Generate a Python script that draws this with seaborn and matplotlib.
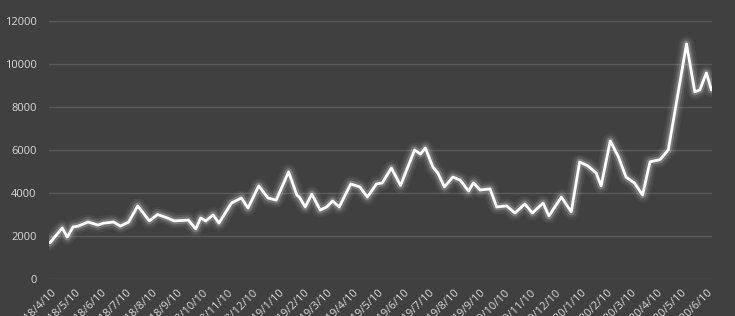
import matplotlib
matplotlib.use("Agg")
import matplotlib.pyplot as plt
import seaborn as sns
import pandas as pd
import numpy as np

dates = [
    "2018-04-09", "2018-04-24", "2018-04-30", "2018-05-07", "2018-05-13", "2018-05-25",
    "2018-06-06", "2018-06-13", "2018-06-25", "2018-07-03", "2018-07-13", "2018-07-24",
    "2018-08-07", "2018-08-17", "2018-08-28", "2018-09-06", "2018-09-23", "2018-10-02",
    "2018-10-08", "2018-10-14", "2018-10-23", "2018-10-30", "2018-11-14", "2018-11-26",
    "2018-12-04", "2018-12-17", "2018-12-28", "2019-01-07", "2019-01-22", "2019-02-01",
    "2019-02-04", "2019-02-11", "2019-02-19", "2019-03-01", "2019-03-09", "2019-03-16",
    "2019-03-24", "2019-04-07", "2019-04-18", "2019-04-27", "2019-05-08", "2019-05-15",
    "2019-05-26", "2019-06-06", "2019-06-23", "2019-06-30", "2019-07-06", "2019-07-15",
    "2019-07-21", "2019-07-29", "2019-08-08", "2019-08-17", "2019-08-27", "2019-09-02",
    "2019-09-10", "2019-09-22", "2019-09-30", "2019-10-12", "2019-10-22", "2019-11-03",
    "2019-11-12", "2019-11-25", "2019-12-02", "2019-12-17", "2019-12-29", "2020-01-08",
    "2020-01-18", "2020-01-28", "2020-02-03", "2020-02-14", "2020-02-24", "2020-03-04",
    "2020-03-14", "2020-03-24", "2020-04-02", "2020-04-14", "2020-04-24", "2020-05-16",
    "2020-05-26", "2020-06-01", "2020-06-09", "2020-06-15",
]
values = [
    1680, 2370, 1950, 2420, 2460, 2650,
    2510, 2600, 2650, 2460, 2650, 3400,
    2700, 3000, 2850, 2700, 2740, 2330,
    2840, 2700, 2980, 2600, 3530, 3770,
    3300, 4330, 3770, 3670, 4980, 3900,
    3810, 3350, 3950, 3210, 3350, 3630,
    3350, 4420, 4280, 3810, 4420, 4470,
    5160, 4350, 6000, 5810, 6090, 5210,
    4930, 4280, 4740, 4600, 4090, 4470,
    4140, 4190, 3350, 3400, 3070, 3490,
    3070, 3530, 2930, 3810, 3120, 5440,
    5260, 4930, 4330, 6420, 5670, 4740,
    4470, 3910, 5450, 5550, 6000, 10930,
    8700, 8790, 9580, 8790,
]

tick_dates = pd.date_range("2018-04-01", "2020-06-01", freq="MS") + pd.Timedelta(days=9)
tick_labels = [f"{d.year}/{d.month}/10" for d in tick_dates]
y_ticks = [0, 2000, 4000, 6000, 8000, 10000, 12000]

df = pd.DataFrame({"date": pd.to_datetime(dates), "value": values})

bg = "#404040"
sns.set_theme(style="dark")
plt.rcParams["font.family"] = ["Open Sans", "DejaVu Sans"]

fig = plt.figure(figsize=(7.35, 3.16), dpi=100, facecolor=bg)
ax = fig.add_axes([0.0667, 0.117, 0.9023, 0.8168])
ax.set_facecolor(bg)

# glow layers
for lw, a in [(11, 0.05), (8, 0.08), (5, 0.2)]:
    sns.lineplot(data=df, x="date", y="value", ax=ax, color="white", lw=lw,
                 alpha=a, solid_joinstyle="round", solid_capstyle="round")
sns.lineplot(data=df, x="date", y="value", ax=ax, color="white", lw=2.0,
             solid_joinstyle="round", solid_capstyle="round")

ax.set_ylim(0, 12000)
ax.set_xlim(pd.Timestamp("2018-04-08"), pd.Timestamp("2020-06-16"))
ax.set_yticks(y_ticks)
ax.set_yticklabels([str(v) for v in y_ticks], color="#d9d9d9", fontsize=8)
ax.set_xticks(tick_dates)
ax.set_xticklabels(tick_labels, color="#d9d9d9", fontsize=8, rotation=45,
                   ha="right", rotation_mode="anchor")
ax.tick_params(axis="y", length=0, pad=9)
ax.tick_params(axis="x", length=0, pad=6)
ax.grid(axis="y", color="#5a5a5a", lw=1)
ax.grid(axis="x", visible=False)
ax.set_xlabel("")
ax.set_ylabel("")
for s in ax.spines.values():
    s.set_visible(False)

fig.savefig("out.png", dpi=100, facecolor=bg)
